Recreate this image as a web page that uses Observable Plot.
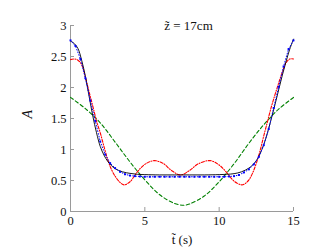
<!DOCTYPE html>
<html><head><meta charset="utf-8">
<script src="https://cdn.jsdelivr.net/npm/d3@7"></script>
<script src="https://cdn.jsdelivr.net/npm/@observablehq/plot@0.6"></script>
<style>
body{margin:0;background:#fff}
</style></head><body><div id="chart"></div>
<script>
// Black solid curve
const tBlack = [0,0.25,0.5,0.75,1,1.25,1.5,1.75,2,2.25,2.5,2.75,3,3.5,4,4.5,5,6,7,8,9,10,10.5,11,11.5,12,12.25,12.5,12.75,13,13.25,13.5,13.75,14,14.25,14.5,14.75,15];
const aBlack = [2.75,2.71,2.63,2.44,2.18,1.86,1.54,1.27,1.05,0.91,0.81,0.74,0.69,0.64,0.615,0.60,0.595,0.59,0.59,0.59,0.59,0.595,0.60,0.61,0.64,0.70,0.75,0.82,0.93,1.08,1.27,1.49,1.72,1.96,2.2,2.42,2.62,2.78];
// Red dash-dot curve
const tRed = [0,0.25,0.5,0.75,1,1.25,1.5,1.75,2,2.25,2.5,2.75,3,3.25,3.6,4,4.5,5,5.6,6.2,6.8,7.4,8,8.6,9.4,10,10.5,11,11.5,11.75,12,12.25,12.5,12.75,13,13.25,13.5,13.75,14,14.25,14.5,14.75,15];
const aRed = [2.45,2.46,2.44,2.37,2.17,1.93,1.70,1.46,1.27,1.05,0.84,0.68,0.57,0.49,0.43,0.48,0.64,0.76,0.82,0.78,0.66,0.59,0.66,0.77,0.82,0.75,0.63,0.49,0.43,0.45,0.51,0.62,0.78,0.98,1.22,1.45,1.68,1.88,2.07,2.25,2.40,2.46,2.46];
// Green dashed curve
const tGreen = [0,1,2,3,4,5,6,7,7.6,8,9,10,11,12,13,14,15];
const aGreen = [1.84,1.66,1.43,1.12,0.80,0.51,0.27,0.13,0.10,0.12,0.25,0.48,0.77,1.10,1.40,1.65,1.84];
// Blue dotted curve with square markers
const tBlue = [0,0.333,0.667,1,1.333,1.667,2,2.333,2.667,3,3.333,3.667,4,4.333,4.667,5,5.333,5.667,6,6.333,6.667,7,7.333,7.667,8,8.333,8.667,9,9.333,9.667,10,10.333,10.667,11,11.333,11.667,12,12.333,12.667,13,13.333,13.667,14,14.333,14.667,15];
const aBlue = [2.76,2.67,2.46,2.15,1.79,1.46,1.13,0.92,0.78,0.70,0.64,0.60,0.58,0.57,0.565,0.56,0.56,0.56,0.56,0.56,0.56,0.56,0.56,0.56,0.56,0.56,0.56,0.56,0.56,0.56,0.56,0.56,0.565,0.57,0.59,0.63,0.68,0.76,0.88,1.07,1.33,1.67,2.01,2.34,2.62,2.76];

const xTicks = [0,5,10,15];
const yTicks = [0,0.5,1,1.5,2,2.5,3];
const titleText = "z\u0303 = 17cm";
const xLabel = "t\u0303 (s)";
const yLabel = "A";

const toRows = (ts, as) => ts.map((t,i) => ({t, a: as[i]}));
const black = toRows(tBlack, aBlack);
const red = toRows(tRed, aRed);
const green = toRows(tGreen, aGreen);
const blue = toRows(tBlue, aBlue);

const gray = "#9a9a9a";
const serif = "Liberation Serif";
const fmt = d => String(d);

const chart = Plot.plot({
  width: 332, height: 249,
  marginLeft: 70, marginRight: 39, marginTop: 25, marginBottom: 38,
  style: {fontFamily: serif, fontSize: "12px", background: "#fff", color: "#111"},
  x: {domain: [0,15], axis: null, label: null},
  y: {domain: [0,3], axis: null, label: null},
  marks: [
    Plot.ruleY([0], {stroke: gray}),
    Plot.ruleX([0], {stroke: gray}),
    Plot.axisX(xTicks, {tickSize: -4, stroke: gray, tickFormat: () => "", label: null}),
    Plot.axisX(xTicks, {tickSize: 0, tickPadding: 5, label: null, fill: "#111", tickFormat: fmt, fontSize: 12.5, fontFamily: serif}),
    Plot.axisY(yTicks, {tickSize: -4, stroke: gray, tickFormat: () => "", label: null}),
    Plot.axisY(yTicks, {tickSize: 0, tickPadding: 4, label: null, fill: "#111", tickFormat: fmt, fontSize: 12.5, fontFamily: serif}),
    Plot.line(green, {x: "t", y: "a", stroke: "#008000", strokeWidth: 1.1, strokeDasharray: "3.5,2.5", curve: "catmull-rom"}),
    Plot.line(red, {x: "t", y: "a", stroke: "#ff0000", strokeWidth: 1.1, strokeDasharray: "3,1.5,1,1.5", curve: "catmull-rom"}),
    Plot.line(black, {x: "t", y: "a", stroke: "#000", strokeWidth: 0.9, curve: "catmull-rom"}),
    Plot.line(blue, {x: "t", y: "a", stroke: "#0000ff", strokeWidth: 1, strokeDasharray: "0.8,2"}),
    Plot.dot(blue, {x: "t", y: "a", symbol: "square", r: 1.1, fill: "#0000ff", stroke: "none"}),
    Plot.text([titleText], {frameAnchor: "top", dx: 6.5, dy: 0, lineAnchor: "middle", fontSize: 13, fill: "#111", fontFamily: serif, ariaLabel: "title"}),
    Plot.text([yLabel], {frameAnchor: "left", dx: -43, rotate: -90, fontStyle: "italic", fontSize: 14, fill: "#111", fontFamily: serif}),
    Plot.text([xLabel], {frameAnchor: "bottom", dy: 28, lineAnchor: "middle", fontSize: 13, fill: "#111", fontFamily: serif, ariaLabel: "xlabel"})
  ]
});
document.getElementById("chart").appendChild(chart);

// Mixed italic/upright for math labels
function mathify(sel, italicPart, rest) {
  const t = d3.select(chart).select(sel);
  if (t.empty()) return;
  t.text(null);
  t.append("tspan").attr("font-style", "italic").text(italicPart);
  t.append("tspan").text(rest);
}
mathify('g[aria-label="xlabel"] text', "t\u0303", " (s)");
mathify('g[aria-label="title"] text', "z\u0303", " = 17cm");
d3.select(chart).selectAll("text, tspan").style("font-family", "'Liberation Serif', serif");
</script>
</body></html>
